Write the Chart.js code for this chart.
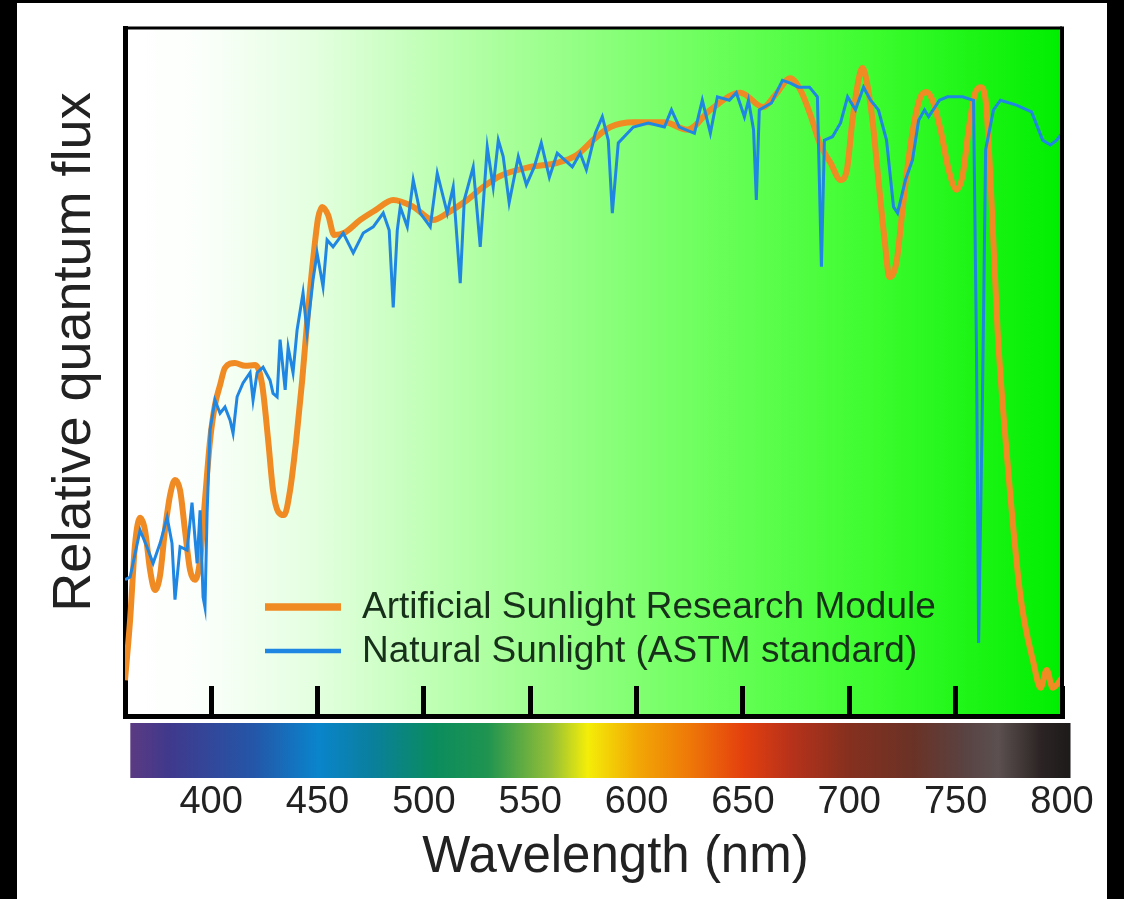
<!DOCTYPE html>
<html>
<head>
<meta charset="utf-8">
<script src="https://cdn.jsdelivr.net/npm/chart.js@4.4.0/dist/chart.umd.min.js"></script>
<style>
  html, body { margin: 0; padding: 0; background: #000; width: 1124px; height: 899px; overflow: hidden; }
  #wrap { position: absolute; left: 17px; top: 3px; width: 1090px; height: 896px; background: #fff; }
</style>
</head>
<body>
<div id="wrap"><canvas id="chart" width="1090" height="896"></canvas></div>
<script>
// tick labels of the wavelength axis
const xTicks = [400, 450, 500, 550, 600, 650, 700, 750, 800];

// Artificial Sunlight Research Module (orange)
const artificialNm = [359.5,361.9,364.2,366.6,368.9,371.3,373.6,376.0,378.3,380.7,383.0,385.4,387.7,390.1,392.4,394.8,397.1,399.5,401.8,404.2,406.5,411.2,416.0,420.7,424.0,426.8,429.1,431.5,434.3,437.1,440.0,442.8,445.6,448.4,450.3,452.2,455.0,457.8,463.0,470.1,477.1,485.6,495.0,504.4,511.0,520.4,527.9,535.9,550.0,562.7,571.7,580.6,587.7,598.5,613.1,623.9,634.7,648.8,659.6,665.3,672.3,677.0,681.7,686.4,691.2,695.9,698.7,701.5,704.3,706.2,708.1,710.9,713.7,716.6,718.9,722.2,725.0,727.8,730.7,733.5,736.3,739.1,742.9,746.7,750.4,753.3,756.1,758.9,761.7,764.1,766.4,769.7,774.4,780.5,786.6,789.9,792.8,795.6,800.0];
const artificialFlux = [0.052,0.140,0.249,0.288,0.270,0.212,0.183,0.205,0.270,0.321,0.343,0.328,0.270,0.212,0.198,0.227,0.314,0.401,0.452,0.481,0.506,0.513,0.509,0.510,0.481,0.401,0.328,0.297,0.292,0.328,0.401,0.488,0.590,0.677,0.724,0.740,0.728,0.699,0.703,0.721,0.735,0.750,0.740,0.721,0.731,0.750,0.769,0.785,0.798,0.804,0.815,0.840,0.856,0.863,0.863,0.852,0.881,0.906,0.885,0.903,0.927,0.910,0.874,0.830,0.804,0.779,0.791,0.866,0.924,0.942,0.924,0.866,0.779,0.692,0.638,0.660,0.735,0.808,0.866,0.900,0.907,0.895,0.852,0.794,0.765,0.786,0.852,0.903,0.914,0.895,0.779,0.561,0.368,0.173,0.077,0.041,0.067,0.041,0.055];

// Natural Sunlight, ASTM standard (blue)
const naturalNm = [359.5,361.9,366.6,369.8,372.7,376.0,379.3,381.6,383.0,385.4,388.7,391.0,393.4,394.8,396.2,397.1,398.1,399.5,401.8,404.2,406.5,408.9,410.3,412.2,415.0,418.3,419.7,421.6,424.4,427.7,429.1,431.0,432.4,434.8,436.2,438.5,440.4,443.2,445.1,447.9,449.8,452.6,454.5,457.3,462.1,466.8,471.5,476.2,480.9,483.7,485.6,487.5,488.9,492.2,495.0,498.3,503.0,506.3,511.0,513.8,517.1,519.0,523.2,526.5,529.8,532.6,535.0,537.3,540.1,544.4,548.2,551.9,555.2,559.0,562.7,569.8,573.5,576.4,580.6,583.9,586.7,588.6,591.4,598.5,605.5,613.1,616.4,620.1,627.2,630.9,634.7,638.0,643.6,646.9,650.7,652.6,655.0,656.3,657.7,663.4,668.6,672.3,676.1,681.3,685.0,686.9,688.3,692.1,695.9,699.2,702.9,706.7,710.0,713.7,717.5,720.8,722.7,726.4,729.7,732.6,735.4,737.3,742.4,746.2,753.3,758.4,759.8,760.8,762.6,764.1,767.8,771.1,778.6,785.7,790.9,794.6,797.5,800.0];
const naturalFlux = [0.198,0.202,0.270,0.246,0.222,0.251,0.289,0.251,0.169,0.246,0.241,0.310,0.222,0.299,0.173,0.158,0.295,0.416,0.459,0.440,0.449,0.430,0.411,0.464,0.484,0.499,0.459,0.499,0.507,0.488,0.469,0.464,0.547,0.474,0.536,0.499,0.561,0.615,0.557,0.634,0.673,0.624,0.692,0.682,0.702,0.673,0.702,0.711,0.731,0.706,0.594,0.706,0.740,0.711,0.779,0.731,0.711,0.789,0.731,0.769,0.629,0.750,0.798,0.682,0.827,0.769,0.837,0.813,0.746,0.813,0.772,0.798,0.833,0.783,0.818,0.798,0.818,0.794,0.847,0.871,0.837,0.731,0.833,0.856,0.862,0.856,0.881,0.856,0.847,0.895,0.847,0.900,0.895,0.906,0.871,0.895,0.852,0.750,0.881,0.891,0.924,0.920,0.914,0.914,0.900,0.653,0.837,0.842,0.862,0.900,0.881,0.914,0.895,0.881,0.837,0.740,0.731,0.779,0.808,0.866,0.881,0.871,0.895,0.900,0.900,0.895,0.532,0.106,0.459,0.823,0.881,0.895,0.888,0.878,0.837,0.830,0.837,0.847];

// spectrum strip under the axis
const spectrumNm = [362, 380, 420, 450, 475, 505, 530, 560, 577, 600, 625, 650, 672, 700, 730, 755, 770, 790, 804];
const spectrumColors = ['#5b3a82','#40398c','#2456a8','#0a84cc','#0a7f9e','#0b8c5e','#1f9450','#96c036','#f4ee08','#f2a805','#ee7808','#e4400e','#b8321a','#85301f','#6a3226','#594343','#5c5050','#2c2424','#1d1a1a'];

const FONT = '"Liberation Sans", Arial, Helvetica, sans-serif';
const X_TITLE = 'Wavelength (nm)';
const Y_TITLE = 'Relative quantum flux';

function toPoints(xs, ys) {
  return xs.map((x, i) => ({ x: x, y: ys[i] }));
}

// fondo degradado blanco -> verde
const bgPlugin = {
  id: 'bg',
  beforeDraw(chart) {
    const { ctx, chartArea: a } = chart;
    const g = ctx.createLinearGradient(a.left, 0, a.right, 0);
    g.addColorStop(0, '#ffffff');
    g.addColorStop(0.08, '#fbfffb');
    g.addColorStop(0.2, '#e4ffe0');
    g.addColorStop(0.4, '#aaff9c');
    g.addColorStop(0.6, '#72ff62');
    g.addColorStop(0.8, '#3cfc2e');
    g.addColorStop(1, '#00ee00');
    ctx.save();
    ctx.fillStyle = g;
    ctx.fillRect(a.left, a.top, a.right - a.left, a.bottom - a.top);
    ctx.restore();
  }
};

// barra de espectro + títulos de ejes
const spectrumPlugin = {
  id: 'spectrum',
  afterDraw(chart) {
    const { ctx, chartArea: a } = chart;
    const x = chart.scales.x;
    const x0 = x.getPixelForValue(spectrumNm[0]);
    const x1 = x.getPixelForValue(spectrumNm[spectrumNm.length - 1]);
    const g = ctx.createLinearGradient(x0, 0, x1, 0);
    spectrumNm.forEach((nm, i) => {
      g.addColorStop((x.getPixelForValue(nm) - x0) / (x1 - x0), spectrumColors[i]);
    });
    ctx.save();
    ctx.fillStyle = g;
    ctx.fillRect(x0, a.bottom + 7, x1 - x0, 55);

    ctx.fillStyle = '#222';
    ctx.textAlign = 'center';
    ctx.textBaseline = 'middle';

    // título eje X (desplazado a la derecha, como en el original)
    ctx.font = '51px ' + FONT;
    ctx.fillText(X_TITLE, (a.left + a.right) / 2 + 22, a.bottom + 142);

    // título eje Y (un poco por encima del centro)
    ctx.translate(a.left - 50, (a.top + a.bottom) / 2 - 20);
    ctx.rotate(-Math.PI / 2);
    ctx.font = '54px ' + FONT;
    ctx.fillText(Y_TITLE, 0, 0);
    ctx.restore();
  }
};

// marco superior y derecho
const framePlugin = {
  id: 'frame',
  afterDatasetsDraw(chart) {
    const { ctx, chartArea: a } = chart;
    ctx.save();
    ctx.strokeStyle = '#000';
    ctx.lineWidth = 3;
    ctx.beginPath();
    ctx.moveTo(a.left, a.top);
    ctx.lineTo(a.right, a.top);
    ctx.stroke();
    ctx.lineWidth = 4;
    ctx.beginPath();
    ctx.moveTo(a.right, a.top - 1.5);
    ctx.lineTo(a.right, a.bottom);
    ctx.stroke();
    ctx.restore();
  }
};

// leyenda dentro del área
const legendPlugin = {
  id: 'inlineLegend',
  afterDraw(chart) {
    const { ctx, chartArea: a } = chart;
    const rows = [chart.data.datasets[0], chart.data.datasets[1]];
    const left = a.left + 140;
    let y = a.bottom - 109;
    ctx.save();
    ctx.font = '37px ' + FONT;
    ctx.textBaseline = 'middle';
    rows.forEach(ds => {
      ctx.strokeStyle = ds.borderColor;
      ctx.lineWidth = ds.borderWidth + 1.5;
      ctx.beginPath();
      ctx.moveTo(left, y);
      ctx.lineTo(left + 76, y);
      ctx.stroke();
      ctx.fillStyle = '#17301a';
      ctx.fillText(ds.label, left + 97, y + 1);
      y += 44;
    });
    ctx.restore();
  }
};

const ctx = document.getElementById('chart').getContext('2d');
new Chart(ctx, {
  type: 'line',
  data: {
    datasets: [
      {
        label: 'Artificial Sunlight Research Module',
        data: toPoints(artificialNm, artificialFlux),
        borderColor: '#f08a22',
        borderWidth: 6,
        pointRadius: 0,
        cubicInterpolationMode: 'monotone',
        order: 2
      },
      {
        label: 'Natural Sunlight (ASTM standard)',
        data: toPoints(naturalNm, naturalFlux),
        borderColor: '#1f86e2',
        borderWidth: 3,
        pointRadius: 0,
        tension: 0,
        order: 1
      }
    ]
  },
  options: {
    responsive: false,
    animation: false,
    devicePixelRatio: 1,
    layout: { padding: { left: 0, right: 45, top: 25, bottom: 0 } },
    plugins: { legend: { display: false }, tooltip: { enabled: false } },
    scales: {
      x: {
        type: 'linear',
        min: 359.5,
        max: 800,
        afterBuildTicks: s => { s.ticks = xTicks.map(v => ({ value: v })); },
        afterFit: s => { s.height = 183; s.paddingLeft = 0; s.paddingRight = 35; },
        border: { display: true, color: '#000', width: 5 },
        grid: { drawOnChartArea: false, drawTicks: true, tickLength: -30, tickWidth: 5, tickColor: '#000' },
        ticks: { padding: 94, color: '#222', font: { family: FONT, size: 38 }, maxRotation: 0, autoSkip: false },
        title: { display: false }
      },
      y: {
        min: 0,
        max: 1,
        afterFit: s => { s.width = 108; },
        ticks: { display: false },
        grid: { display: false },
        border: { display: true, color: '#000', width: 5 },
        title: { display: false }
      }
    }
  },
  plugins: [bgPlugin, spectrumPlugin, framePlugin, legendPlugin]
});
</script>
</body>
</html>
